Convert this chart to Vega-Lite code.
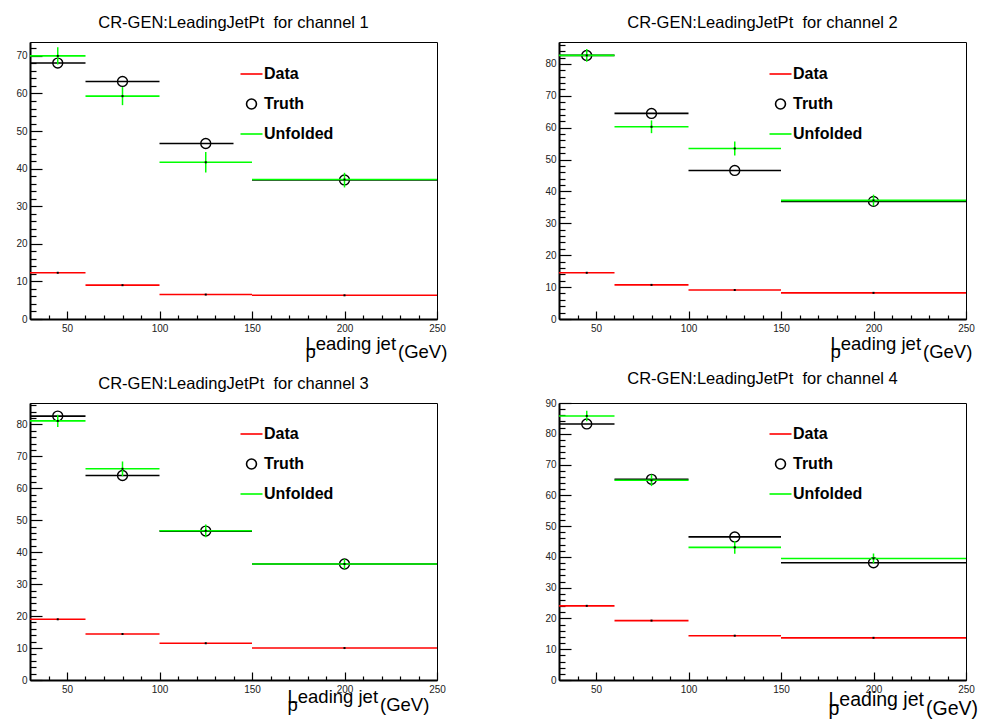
{
  "$schema": "https://vega.github.io/schema/vega-lite/v6.json",
  "background": "white",
  "padding": {"left": 15, "top": 14, "right": 2, "bottom": 2},
  "bounds": "flush",
  "spacing": {"row": 84, "column": 122},
  "columns": 2,
  "config": {
    "font": "Liberation Sans",
    "view": {"stroke": "black", "strokeWidth": 1},
    "axis": {"labelFont": "Liberation Sans", "labelFontSize": 10, "labelColor": "#222", "tickColor": "black", "domainColor": "black", "grid": false, "labelFlush": false, "labelOverlap": false},
    "legend": {"orient": "none", "padding": 0, "labelFont": "Liberation Sans", "labelFontSize": 16, "labelFontWeight": "bold", "labelColor": "black", "symbolSize": 121, "symbolStrokeWidth": 1.6, "rowPadding": 13, "labelOffset": 4.5},
    "title": {"font": "Liberation Sans", "fontSize": 16.5, "fontWeight": "normal", "color": "black", "offset": 11, "anchor": "middle"}
  },
  "data": {"values": [
    {"ch":1,"series":"Data","lo":30,"hi":60,"x":45,"y":12.3},
    {"ch":1,"series":"Data","lo":60,"hi":100,"x":80,"y":9.0},
    {"ch":1,"series":"Data","lo":100,"hi":150,"x":125,"y":6.5},
    {"ch":1,"series":"Data","lo":150,"hi":250,"x":200,"y":6.3},
    {"ch":1,"series":"Truth","lo":30,"hi":60,"x":45,"y":68.1},
    {"ch":1,"series":"Truth","lo":60,"hi":100,"x":80,"y":63.2},
    {"ch":1,"series":"Truth","lo":100,"hi":140,"x":125,"y":46.7},
    {"ch":1,"series":"Truth","lo":150,"hi":250,"x":200,"y":37.0},
    {"ch":1,"series":"Unfolded","lo":30,"hi":60,"x":45,"y":70.0,"ylo":67.7,"yhi":72.3},
    {"ch":1,"series":"Unfolded","lo":60,"hi":100,"x":80,"y":59.3,"ylo":56.9,"yhi":61.7},
    {"ch":1,"series":"Unfolded","lo":100,"hi":150,"x":125,"y":41.7,"ylo":39.0,"yhi":44.4},
    {"ch":1,"series":"Unfolded","lo":150,"hi":250,"x":200,"y":37.1,"ylo":35.0,"yhi":38.9},
    {"ch":2,"series":"Data","lo":30,"hi":60,"x":45,"y":14.5},
    {"ch":2,"series":"Data","lo":60,"hi":100,"x":80,"y":10.7},
    {"ch":2,"series":"Data","lo":100,"hi":150,"x":125,"y":9.1},
    {"ch":2,"series":"Data","lo":150,"hi":250,"x":200,"y":8.2},
    {"ch":2,"series":"Truth","lo":30,"hi":60,"x":45,"y":82.7},
    {"ch":2,"series":"Truth","lo":60,"hi":100,"x":80,"y":64.5},
    {"ch":2,"series":"Truth","lo":100,"hi":150,"x":125,"y":46.6},
    {"ch":2,"series":"Truth","lo":150,"hi":250,"x":200,"y":36.9},
    {"ch":2,"series":"Unfolded","lo":30,"hi":60,"x":45,"y":82.7,"ylo":80.7,"yhi":84.7},
    {"ch":2,"series":"Unfolded","lo":60,"hi":100,"x":80,"y":60.3,"ylo":58.3,"yhi":62.3},
    {"ch":2,"series":"Unfolded","lo":100,"hi":150,"x":125,"y":53.5,"ylo":51.3,"yhi":55.7},
    {"ch":2,"series":"Unfolded","lo":150,"hi":250,"x":200,"y":37.2,"ylo":35.4,"yhi":39.0},
    {"ch":3,"series":"Data","lo":30,"hi":60,"x":45,"y":19.0},
    {"ch":3,"series":"Data","lo":60,"hi":100,"x":80,"y":14.4},
    {"ch":3,"series":"Data","lo":100,"hi":150,"x":125,"y":11.5},
    {"ch":3,"series":"Data","lo":150,"hi":250,"x":200,"y":10.0},
    {"ch":3,"series":"Truth","lo":30,"hi":60,"x":45,"y":82.6},
    {"ch":3,"series":"Truth","lo":60,"hi":100,"x":80,"y":64.0},
    {"ch":3,"series":"Truth","lo":100,"hi":150,"x":125,"y":46.6},
    {"ch":3,"series":"Truth","lo":150,"hi":250,"x":200,"y":36.3},
    {"ch":3,"series":"Unfolded","lo":30,"hi":60,"x":45,"y":81.1,"ylo":79.2,"yhi":83.0},
    {"ch":3,"series":"Unfolded","lo":60,"hi":100,"x":80,"y":66.1,"ylo":63.8,"yhi":68.4},
    {"ch":3,"series":"Unfolded","lo":100,"hi":150,"x":125,"y":46.7,"ylo":44.7,"yhi":48.7},
    {"ch":3,"series":"Unfolded","lo":150,"hi":250,"x":200,"y":36.3,"ylo":34.7,"yhi":37.9},
    {"ch":4,"series":"Data","lo":30,"hi":60,"x":45,"y":24.1},
    {"ch":4,"series":"Data","lo":60,"hi":100,"x":80,"y":19.3},
    {"ch":4,"series":"Data","lo":100,"hi":150,"x":125,"y":14.4},
    {"ch":4,"series":"Data","lo":150,"hi":250,"x":200,"y":13.7},
    {"ch":4,"series":"Truth","lo":30,"hi":60,"x":45,"y":83.2},
    {"ch":4,"series":"Truth","lo":60,"hi":100,"x":80,"y":65.2},
    {"ch":4,"series":"Truth","lo":100,"hi":150,"x":125,"y":46.5},
    {"ch":4,"series":"Truth","lo":150,"hi":250,"x":200,"y":38.1},
    {"ch":4,"series":"Unfolded","lo":30,"hi":60,"x":45,"y":85.8,"ylo":84.1,"yhi":87.5},
    {"ch":4,"series":"Unfolded","lo":60,"hi":100,"x":80,"y":64.9,"ylo":63.0,"yhi":66.8},
    {"ch":4,"series":"Unfolded","lo":100,"hi":150,"x":125,"y":43.1,"ylo":41.0,"yhi":45.2},
    {"ch":4,"series":"Unfolded","lo":150,"hi":250,"x":200,"y":39.5,"ylo":37.9,"yhi":41.1}
  ]},
  "resolve": {"scale": {"color": "independent", "shape": "independent"}},
  "concat": [
    {
      "width": 407, "height": 277,
      "title": "CR-GEN:LeadingJetPt\u00a0 for channel 1",
      "transform": [{"filter": "datum.ch == 1"}],
      "resolve": {"axis": {"x": "independent", "y": "independent"}},
      "layer": [
        {
          "transform": [{"filter": "datum.series == 'Data'"}],
          "mark": {"type": "rule", "strokeWidth": 1.6, "color": "#ff0000"},
          "encoding": {
            "x": {"field": "lo", "type": "quantitative", "scale": {"domain": [30, 250], "nice": false, "zero": false}, "axis": {"orient": "bottom", "values": [40,60,70,80,90,110,120,130,140,160,170,180,190,210,220,230,240], "tickSize": -4, "tickWidth": 1.2, "labels": false, "domain": false, "title": null}},
            "x2": {"field": "hi"},
            "y": {"field": "y", "type": "quantitative", "scale": {"domain": [0, 73.7], "nice": false}, "axis": {"orient": "left", "values": [2,4,6,8,12,14,16,18,22,24,26,28,32,34,36,38,42,44,46,48,52,54,56,58,62,64,66,68,72], "tickSize": -6, "tickWidth": 1.2, "labels": false, "domain": false, "title": null}}
          }
        },
        {
          "transform": [{"filter": "datum.series == 'Truth'"}],
          "mark": {"type": "rule", "strokeWidth": 1.6, "color": "#000000"},
          "encoding": {
            "x": {"field": "lo", "type": "quantitative", "scale": {"domain": [30, 250], "nice": false, "zero": false}, "axis": null},
            "x2": {"field": "hi"},
            "y": {"field": "y", "type": "quantitative", "scale": {"domain": [0, 73.7], "nice": false}, "axis": null}
          }
        },
        {
          "transform": [{"filter": "datum.series == 'Truth'"}],
          "mark": {"type": "point", "filled": false, "size": 121, "strokeWidth": 1.4, "opacity": 1},
          "encoding": {
            "x": {"field": "x", "type": "quantitative", "scale": {"domain": [30, 250], "nice": false, "zero": false}, "axis": {"orient": "bottom", "values": [50,100,150,200,250], "tickSize": -8, "tickWidth": 1.2, "domainWidth": 2, "labelPadding": 12, "title": ["\u00a0\u00a0Leading jet", "p\u00a0\u00a0\u00a0\u00a0\u00a0\u00a0\u00a0\u00a0\u00a0\u00a0\u00a0\u00a0\u00a0\u00a0\u00a0\u00a0(GeV)"], "titleFont": "Liberation Sans", "titleFontSize": 18.5, "titleFontWeight": "normal", "titleColor": "black", "titleAlign": "left", "titleBaseline": "top", "titleLineHeight": 8.5, "titleX": 275, "titleY": 15}},
            "y": {"field": "y", "type": "quantitative", "scale": {"domain": [0, 73.7], "nice": false}, "axis": {"orient": "left", "values": [0,10,20,30,40,50,60,70], "tickSize": -12, "tickWidth": 1.2, "domainWidth": 2, "labelPadding": 15, "title": null}},
            "color": {"field": "series", "type": "nominal", "scale": {"domain": ["Data", "Truth", "Unfolded"], "range": ["#ff0000", "#000000", "#00ff00"]}, "legend": {"title": null, "legendX": 213.5, "legendY": 24}},
            "shape": {"field": "series", "type": "nominal", "scale": {"domain": ["Data", "Truth", "Unfolded"], "range": ["M-2,0H2", "M-0.9,0A0.9,0.9 0 1,0 0.9,0A0.9,0.9 0 1,0 -0.9,0", "M-2,0H2"]}, "legend": {"title": null, "legendX": 213.5, "legendY": 24}}
          }
        },
        {
          "transform": [{"filter": "datum.series == 'Unfolded'"}],
          "mark": {"type": "rule", "strokeWidth": 1.6, "color": "#00ff00"},
          "encoding": {
            "x": {"field": "lo", "type": "quantitative", "scale": {"domain": [30, 250], "nice": false, "zero": false}, "axis": null},
            "x2": {"field": "hi"},
            "y": {"field": "y", "type": "quantitative", "scale": {"domain": [0, 73.7], "nice": false}, "axis": null}
          }
        },
        {
          "transform": [{"filter": "datum.series == 'Unfolded'"}],
          "mark": {"type": "rule", "strokeWidth": 1.5, "color": "#00ff00"},
          "encoding": {
            "x": {"field": "x", "type": "quantitative", "scale": {"domain": [30, 250], "nice": false, "zero": false}, "axis": null},
            "y": {"field": "ylo", "type": "quantitative", "scale": {"domain": [0, 73.7], "nice": false}, "axis": null},
            "y2": {"field": "yhi"}
          }
        },
        {
          "transform": [{"filter": "datum.series != 'Truth'"}],
          "mark": {"type": "point", "shape": "square", "filled": true, "size": 4, "color": "black", "opacity": 1},
          "encoding": {
            "x": {"field": "x", "type": "quantitative", "scale": {"domain": [30, 250], "nice": false, "zero": false}, "axis": null},
            "y": {"field": "y", "type": "quantitative", "scale": {"domain": [0, 73.7], "nice": false}, "axis": null}
          }
        }
      ]
    },
    {
      "width": 407, "height": 277,
      "title": "CR-GEN:LeadingJetPt\u00a0 for channel 2",
      "transform": [{"filter": "datum.ch == 2"}],
      "resolve": {"axis": {"x": "independent", "y": "independent"}},
      "layer": [
        {
          "transform": [{"filter": "datum.series == 'Data'"}],
          "mark": {"type": "rule", "strokeWidth": 1.6, "color": "#ff0000"},
          "encoding": {
            "x": {"field": "lo", "type": "quantitative", "scale": {"domain": [30, 250], "nice": false, "zero": false}, "axis": {"orient": "bottom", "values": [40,60,70,80,90,110,120,130,140,160,170,180,190,210,220,230,240], "tickSize": -4, "tickWidth": 1.2, "labels": false, "domain": false, "title": null}},
            "x2": {"field": "hi"},
            "y": {"field": "y", "type": "quantitative", "scale": {"domain": [0, 86.9], "nice": false}, "axis": {"orient": "left", "values": [2,4,6,8,12,14,16,18,22,24,26,28,32,34,36,38,42,44,46,48,52,54,56,58,62,64,66,68,72,74,76,78,82,84,86], "tickSize": -6, "tickWidth": 1.2, "labels": false, "domain": false, "title": null}}
          }
        },
        {
          "transform": [{"filter": "datum.series == 'Truth'"}],
          "mark": {"type": "rule", "strokeWidth": 1.6, "color": "#000000"},
          "encoding": {
            "x": {"field": "lo", "type": "quantitative", "scale": {"domain": [30, 250], "nice": false, "zero": false}, "axis": null},
            "x2": {"field": "hi"},
            "y": {"field": "y", "type": "quantitative", "scale": {"domain": [0, 86.9], "nice": false}, "axis": null}
          }
        },
        {
          "transform": [{"filter": "datum.series == 'Truth'"}],
          "mark": {"type": "point", "filled": false, "size": 121, "strokeWidth": 1.4, "opacity": 1},
          "encoding": {
            "x": {"field": "x", "type": "quantitative", "scale": {"domain": [30, 250], "nice": false, "zero": false}, "axis": {"orient": "bottom", "values": [50,100,150,200,250], "tickSize": -8, "tickWidth": 1.2, "domainWidth": 2, "labelPadding": 12, "title": ["\u00a0\u00a0Leading jet", "p\u00a0\u00a0\u00a0\u00a0\u00a0\u00a0\u00a0\u00a0\u00a0\u00a0\u00a0\u00a0\u00a0\u00a0\u00a0\u00a0(GeV)"], "titleFont": "Liberation Sans", "titleFontSize": 18.5, "titleFontWeight": "normal", "titleColor": "black", "titleAlign": "left", "titleBaseline": "top", "titleLineHeight": 8.5, "titleX": 271, "titleY": 15}},
            "y": {"field": "y", "type": "quantitative", "scale": {"domain": [0, 86.9], "nice": false}, "axis": {"orient": "left", "values": [0,10,20,30,40,50,60,70,80], "tickSize": -12, "tickWidth": 1.2, "domainWidth": 2, "labelPadding": 15, "title": null}},
            "color": {"field": "series", "type": "nominal", "scale": {"domain": ["Data", "Truth", "Unfolded"], "range": ["#ff0000", "#000000", "#00ff00"]}, "legend": {"title": null, "legendX": 213.5, "legendY": 24}},
            "shape": {"field": "series", "type": "nominal", "scale": {"domain": ["Data", "Truth", "Unfolded"], "range": ["M-2,0H2", "M-0.9,0A0.9,0.9 0 1,0 0.9,0A0.9,0.9 0 1,0 -0.9,0", "M-2,0H2"]}, "legend": {"title": null, "legendX": 213.5, "legendY": 24}}
          }
        },
        {
          "transform": [{"filter": "datum.series == 'Unfolded'"}],
          "mark": {"type": "rule", "strokeWidth": 1.6, "color": "#00ff00"},
          "encoding": {
            "x": {"field": "lo", "type": "quantitative", "scale": {"domain": [30, 250], "nice": false, "zero": false}, "axis": null},
            "x2": {"field": "hi"},
            "y": {"field": "y", "type": "quantitative", "scale": {"domain": [0, 86.9], "nice": false}, "axis": null}
          }
        },
        {
          "transform": [{"filter": "datum.series == 'Unfolded'"}],
          "mark": {"type": "rule", "strokeWidth": 1.5, "color": "#00ff00"},
          "encoding": {
            "x": {"field": "x", "type": "quantitative", "scale": {"domain": [30, 250], "nice": false, "zero": false}, "axis": null},
            "y": {"field": "ylo", "type": "quantitative", "scale": {"domain": [0, 86.9], "nice": false}, "axis": null},
            "y2": {"field": "yhi"}
          }
        },
        {
          "transform": [{"filter": "datum.series != 'Truth'"}],
          "mark": {"type": "point", "shape": "square", "filled": true, "size": 4, "color": "black", "opacity": 1},
          "encoding": {
            "x": {"field": "x", "type": "quantitative", "scale": {"domain": [30, 250], "nice": false, "zero": false}, "axis": null},
            "y": {"field": "y", "type": "quantitative", "scale": {"domain": [0, 86.9], "nice": false}, "axis": null}
          }
        }
      ]
    },
    {
      "width": 407, "height": 277,
      "title": "CR-GEN:LeadingJetPt\u00a0 for channel 3",
      "transform": [{"filter": "datum.ch == 3"}],
      "resolve": {"axis": {"x": "independent", "y": "independent"}},
      "layer": [
        {
          "transform": [{"filter": "datum.series == 'Data'"}],
          "mark": {"type": "rule", "strokeWidth": 1.6, "color": "#ff0000"},
          "encoding": {
            "x": {"field": "lo", "type": "quantitative", "scale": {"domain": [30, 250], "nice": false, "zero": false}, "axis": {"orient": "bottom", "values": [40,60,70,80,90,110,120,130,140,160,170,180,190,210,220,230,240], "tickSize": -4, "tickWidth": 1.2, "labels": false, "domain": false, "title": null}},
            "x2": {"field": "hi"},
            "y": {"field": "y", "type": "quantitative", "scale": {"domain": [0, 86.7], "nice": false}, "axis": {"orient": "left", "values": [2,4,6,8,12,14,16,18,22,24,26,28,32,34,36,38,42,44,46,48,52,54,56,58,62,64,66,68,72,74,76,78,82,84,86], "tickSize": -6, "tickWidth": 1.2, "labels": false, "domain": false, "title": null}}
          }
        },
        {
          "transform": [{"filter": "datum.series == 'Truth'"}],
          "mark": {"type": "rule", "strokeWidth": 1.6, "color": "#000000"},
          "encoding": {
            "x": {"field": "lo", "type": "quantitative", "scale": {"domain": [30, 250], "nice": false, "zero": false}, "axis": null},
            "x2": {"field": "hi"},
            "y": {"field": "y", "type": "quantitative", "scale": {"domain": [0, 86.7], "nice": false}, "axis": null}
          }
        },
        {
          "transform": [{"filter": "datum.series == 'Truth'"}],
          "mark": {"type": "point", "filled": false, "size": 121, "strokeWidth": 1.4, "opacity": 1},
          "encoding": {
            "x": {"field": "x", "type": "quantitative", "scale": {"domain": [30, 250], "nice": false, "zero": false}, "axis": {"orient": "bottom", "values": [50,100,150,200,250], "tickSize": -8, "tickWidth": 1.2, "domainWidth": 2, "labelPadding": 12, "title": ["\u00a0\u00a0Leading jet", "p\u00a0\u00a0\u00a0\u00a0\u00a0\u00a0\u00a0\u00a0\u00a0\u00a0\u00a0\u00a0\u00a0\u00a0\u00a0\u00a0(GeV)"], "titleFont": "Liberation Sans", "titleFontSize": 18.5, "titleFontWeight": "normal", "titleColor": "black", "titleAlign": "left", "titleBaseline": "top", "titleLineHeight": 8.5, "titleX": 257, "titleY": 7}},
            "y": {"field": "y", "type": "quantitative", "scale": {"domain": [0, 86.7], "nice": false}, "axis": {"orient": "left", "values": [0,10,20,30,40,50,60,70,80], "tickSize": -12, "tickWidth": 1.2, "domainWidth": 2, "labelPadding": 15, "title": null}},
            "color": {"field": "series", "type": "nominal", "scale": {"domain": ["Data", "Truth", "Unfolded"], "range": ["#ff0000", "#000000", "#00ff00"]}, "legend": {"title": null, "legendX": 213.5, "legendY": 23}},
            "shape": {"field": "series", "type": "nominal", "scale": {"domain": ["Data", "Truth", "Unfolded"], "range": ["M-2,0H2", "M-0.9,0A0.9,0.9 0 1,0 0.9,0A0.9,0.9 0 1,0 -0.9,0", "M-2,0H2"]}, "legend": {"title": null, "legendX": 213.5, "legendY": 23}}
          }
        },
        {
          "transform": [{"filter": "datum.series == 'Unfolded'"}],
          "mark": {"type": "rule", "strokeWidth": 1.6, "color": "#00ff00"},
          "encoding": {
            "x": {"field": "lo", "type": "quantitative", "scale": {"domain": [30, 250], "nice": false, "zero": false}, "axis": null},
            "x2": {"field": "hi"},
            "y": {"field": "y", "type": "quantitative", "scale": {"domain": [0, 86.7], "nice": false}, "axis": null}
          }
        },
        {
          "transform": [{"filter": "datum.series == 'Unfolded'"}],
          "mark": {"type": "rule", "strokeWidth": 1.5, "color": "#00ff00"},
          "encoding": {
            "x": {"field": "x", "type": "quantitative", "scale": {"domain": [30, 250], "nice": false, "zero": false}, "axis": null},
            "y": {"field": "ylo", "type": "quantitative", "scale": {"domain": [0, 86.7], "nice": false}, "axis": null},
            "y2": {"field": "yhi"}
          }
        },
        {
          "transform": [{"filter": "datum.series != 'Truth'"}],
          "mark": {"type": "point", "shape": "square", "filled": true, "size": 4, "color": "black", "opacity": 1},
          "encoding": {
            "x": {"field": "x", "type": "quantitative", "scale": {"domain": [30, 250], "nice": false, "zero": false}, "axis": null},
            "y": {"field": "y", "type": "quantitative", "scale": {"domain": [0, 86.7], "nice": false}, "axis": null}
          }
        }
      ]
    },
    {
      "width": 407, "height": 277,
      "title": "CR-GEN:LeadingJetPt\u00a0 for channel 4",
      "transform": [{"filter": "datum.ch == 4"}],
      "resolve": {"axis": {"x": "independent", "y": "independent"}},
      "layer": [
        {
          "transform": [{"filter": "datum.series == 'Data'"}],
          "mark": {"type": "rule", "strokeWidth": 1.6, "color": "#ff0000"},
          "encoding": {
            "x": {"field": "lo", "type": "quantitative", "scale": {"domain": [30, 250], "nice": false, "zero": false}, "axis": {"orient": "bottom", "values": [40,60,70,80,90,110,120,130,140,160,170,180,190,210,220,230,240], "tickSize": -4, "tickWidth": 1.2, "labels": false, "domain": false, "title": null}},
            "x2": {"field": "hi"},
            "y": {"field": "y", "type": "quantitative", "scale": {"domain": [0, 90], "nice": false}, "axis": {"orient": "left", "values": [2,4,6,8,12,14,16,18,22,24,26,28,32,34,36,38,42,44,46,48,52,54,56,58,62,64,66,68,72,74,76,78,82,84,86,88], "tickSize": -6, "tickWidth": 1.2, "labels": false, "domain": false, "title": null}}
          }
        },
        {
          "transform": [{"filter": "datum.series == 'Truth'"}],
          "mark": {"type": "rule", "strokeWidth": 1.6, "color": "#000000"},
          "encoding": {
            "x": {"field": "lo", "type": "quantitative", "scale": {"domain": [30, 250], "nice": false, "zero": false}, "axis": null},
            "x2": {"field": "hi"},
            "y": {"field": "y", "type": "quantitative", "scale": {"domain": [0, 90], "nice": false}, "axis": null}
          }
        },
        {
          "transform": [{"filter": "datum.series == 'Truth'"}],
          "mark": {"type": "point", "filled": false, "size": 121, "strokeWidth": 1.4, "opacity": 1},
          "encoding": {
            "x": {"field": "x", "type": "quantitative", "scale": {"domain": [30, 250], "nice": false, "zero": false}, "axis": {"orient": "bottom", "values": [50,100,150,200,250], "tickSize": -8, "tickWidth": 1.2, "domainWidth": 2, "labelPadding": 12, "title": ["\u00a0\u00a0Leading jet", "p\u00a0\u00a0\u00a0\u00a0\u00a0\u00a0\u00a0\u00a0\u00a0\u00a0\u00a0\u00a0\u00a0\u00a0\u00a0\u00a0(GeV)"], "titleFont": "Liberation Sans", "titleFontSize": 19.5, "titleFontWeight": "normal", "titleColor": "black", "titleAlign": "left", "titleBaseline": "top", "titleLineHeight": 9, "titleX": 269, "titleY": 10}},
            "y": {"field": "y", "type": "quantitative", "scale": {"domain": [0, 90], "nice": false}, "axis": {"orient": "left", "values": [0,10,20,30,40,50,60,70,80,90], "tickSize": -12, "tickWidth": 1.2, "domainWidth": 2, "labelPadding": 15, "title": null}},
            "color": {"field": "series", "type": "nominal", "scale": {"domain": ["Data", "Truth", "Unfolded"], "range": ["#ff0000", "#000000", "#00ff00"]}, "legend": {"title": null, "legendX": 213.5, "legendY": 23}},
            "shape": {"field": "series", "type": "nominal", "scale": {"domain": ["Data", "Truth", "Unfolded"], "range": ["M-2,0H2", "M-0.9,0A0.9,0.9 0 1,0 0.9,0A0.9,0.9 0 1,0 -0.9,0", "M-2,0H2"]}, "legend": {"title": null, "legendX": 213.5, "legendY": 23}}
          }
        },
        {
          "transform": [{"filter": "datum.series == 'Unfolded'"}],
          "mark": {"type": "rule", "strokeWidth": 1.6, "color": "#00ff00"},
          "encoding": {
            "x": {"field": "lo", "type": "quantitative", "scale": {"domain": [30, 250], "nice": false, "zero": false}, "axis": null},
            "x2": {"field": "hi"},
            "y": {"field": "y", "type": "quantitative", "scale": {"domain": [0, 90], "nice": false}, "axis": null}
          }
        },
        {
          "transform": [{"filter": "datum.series == 'Unfolded'"}],
          "mark": {"type": "rule", "strokeWidth": 1.5, "color": "#00ff00"},
          "encoding": {
            "x": {"field": "x", "type": "quantitative", "scale": {"domain": [30, 250], "nice": false, "zero": false}, "axis": null},
            "y": {"field": "ylo", "type": "quantitative", "scale": {"domain": [0, 90], "nice": false}, "axis": null},
            "y2": {"field": "yhi"}
          }
        },
        {
          "transform": [{"filter": "datum.series != 'Truth'"}],
          "mark": {"type": "point", "shape": "square", "filled": true, "size": 4, "color": "black", "opacity": 1},
          "encoding": {
            "x": {"field": "x", "type": "quantitative", "scale": {"domain": [30, 250], "nice": false, "zero": false}, "axis": null},
            "y": {"field": "y", "type": "quantitative", "scale": {"domain": [0, 90], "nice": false}, "axis": null}
          }
        }
      ]
    }
  ]
}
